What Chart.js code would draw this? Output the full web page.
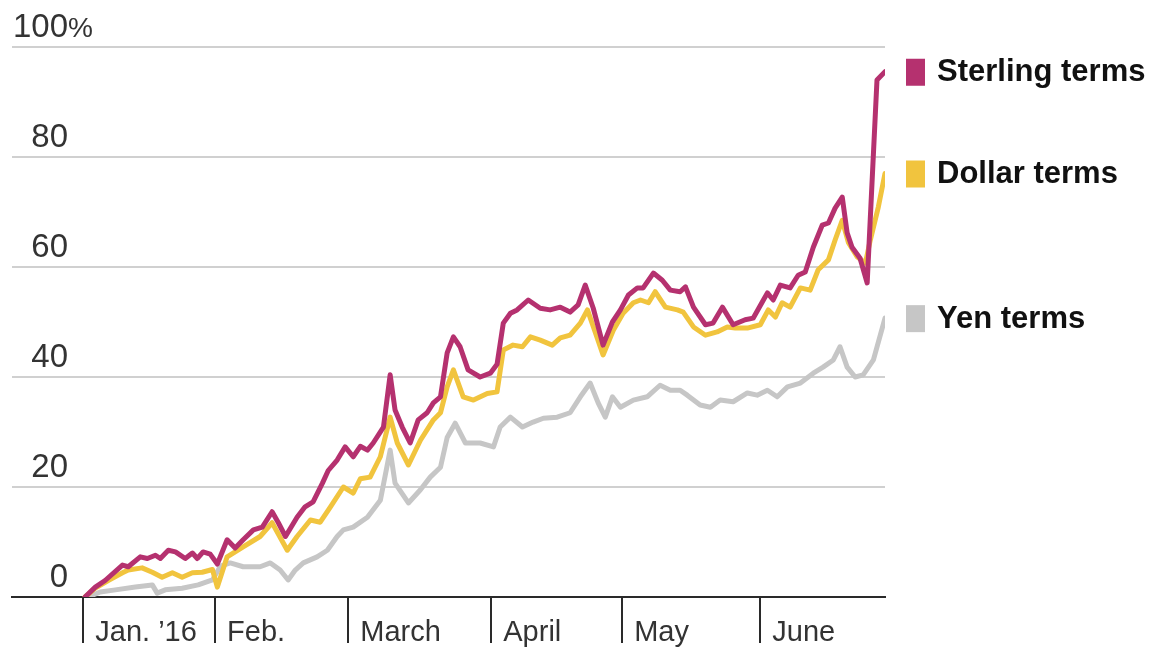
<!DOCTYPE html>
<html>
<head>
<meta charset="utf-8">
<script src="https://cdn.jsdelivr.net/npm/chart.js@4"></script>
<style>
  body { margin: 0; background: #fff; }
  canvas { display: block; }
</style>
</head>
<body>
<canvas id="chart" width="1157" height="651"></canvas>
<script>
// x values are approximate days since Jan. 1
const monthLabels = ["Jan. \u201916", "Feb.", "March", "April", "May", "June"];
const monthStarts = [0, 29.6, 59.5, 91.6, 121.0, 152.0];
const yTicks = [0, 20, 40, 60, 80, 100];

const sterling = [
  [0.4, 0], [2.7, 1.8], [4.9, 3.0], [8.8, 5.8], [10.1, 5.5], [12.8, 7.3], [14.4, 7.0],
  [16.2, 7.6], [17.3, 7.0], [19.1, 8.5], [20.7, 8.2], [22.9, 7.0], [24.5, 8.0], [25.6, 7.0],
  [26.9, 8.2], [28.5, 7.8], [30.1, 6.0], [32.3, 10.4], [34.1, 8.9], [35.9, 10.4], [38.2, 12.2],
  [40.2, 12.7], [42.4, 15.5], [43.8, 13.5], [45.4, 11.0], [48.0, 14.5], [49.8, 16.4],
  [51.6, 17.3], [53.7, 20.7], [55.0, 23.0], [57.0, 24.9], [58.8, 27.3], [60.6, 25.5],
  [62.2, 27.4], [63.8, 26.7], [65.1, 28.0], [67.4, 30.9], [68.9, 40.4], [70.0, 34.0],
  [71.6, 30.9], [73.4, 28.0], [75.2, 32.2], [77.2, 33.5], [78.6, 35.3], [80.2, 36.4],
  [81.7, 44.4], [83.1, 47.3], [84.6, 45.5], [86.4, 41.3], [89.1, 40.0], [91.4, 40.7],
  [92.9, 42.3], [94.3, 49.8], [95.9, 51.6], [97.4, 52.2], [99.9, 54.0], [102.6, 52.5],
  [104.8, 52.2], [107.1, 52.7], [109.3, 51.8], [111.1, 53.1], [112.7, 56.7], [114.5, 52.5],
  [116.7, 45.8], [118.8, 50.0], [120.6, 52.2], [122.4, 54.9], [124.4, 56.2], [125.7, 56.2],
  [128.0, 58.9], [130.0, 57.6], [131.8, 55.8], [134.0, 55.5], [135.2, 56.4], [137.0, 52.7],
  [139.7, 49.5], [141.4, 49.8], [143.5, 52.7], [145.9, 49.5], [148.6, 50.4], [150.4, 50.7],
  [152.7, 54.0], [153.6, 55.3], [154.9, 54.0], [156.5, 56.7], [158.7, 56.2], [160.5, 58.5],
  [162.1, 59.1], [163.9, 63.6], [165.9, 67.6], [167.3, 68.0], [168.8, 70.7], [170.4, 72.7],
  [171.5, 66.2], [172.6, 63.6], [174.4, 61.6], [176.0, 57.1], [178.2, 94.0], [180.0, 95.5]
];

const dollar = [
  [0.4, 0], [2.7, 1.6], [5.6, 3.0], [8.8, 4.4], [10.1, 4.9], [13.2, 5.3], [15.5, 4.5],
  [17.7, 3.6], [20.0, 4.4], [22.2, 3.6], [24.5, 4.4], [26.7, 4.5], [29.0, 5.0], [30.1, 1.8],
  [32.3, 7.3], [35.9, 9.1], [39.7, 11.0], [42.4, 13.5], [45.8, 8.5], [48.0, 11.0],
  [51.0, 14.0], [53.2, 13.6], [55.5, 16.4], [58.4, 20.0], [60.6, 18.9], [62.2, 21.5],
  [64.4, 21.8], [66.7, 25.5], [68.9, 32.7], [70.5, 28.0], [73.0, 24.0], [75.7, 28.5],
  [78.6, 32.2], [80.2, 33.5], [81.7, 38.2], [83.1, 41.3], [85.3, 36.4], [87.6, 35.8],
  [90.7, 37.0], [92.9, 37.3], [94.3, 44.9], [96.5, 45.8], [98.6, 45.5], [100.4, 47.3],
  [102.6, 46.7], [105.3, 45.8], [107.1, 47.1], [109.3, 47.6], [111.6, 49.8], [113.2, 52.2],
  [115.0, 48.0], [116.7, 44.0], [119.0, 48.5], [121.2, 51.6], [123.5, 53.5], [125.1, 54.0],
  [126.9, 53.5], [128.4, 55.5], [130.7, 52.7], [133.4, 52.2], [134.7, 51.8], [137.0, 49.1],
  [139.7, 47.6], [142.3, 48.2], [144.6, 49.1], [146.4, 48.9], [149.1, 48.9], [152.0, 49.5],
  [153.8, 52.2], [155.4, 50.9], [156.9, 53.5], [158.7, 52.7], [161.0, 56.2], [163.2, 55.8],
  [165.0, 59.5], [167.3, 61.3], [168.8, 64.9], [170.4, 68.5], [171.8, 64.4], [173.8, 61.8],
  [175.6, 60.7], [176.7, 64.9], [178.5, 70.9], [180.0, 77.0]
];

const yen = [
  [1.1, 0], [3.8, 0.9], [7.2, 1.3], [11.7, 1.8], [15.5, 2.2], [16.6, 0.7], [18.4, 1.3],
  [22.2, 1.6], [25.8, 2.2], [29.0, 3.1], [30.8, 5.6], [33.0, 6.2], [35.9, 5.5], [39.7, 5.5],
  [42.0, 6.2], [44.2, 4.9], [46.0, 3.1], [47.6, 4.9], [49.4, 6.2], [52.5, 7.3], [54.8, 8.5],
  [57.0, 11.0], [58.4, 12.2], [60.6, 12.7], [63.8, 14.5], [66.7, 17.6], [68.9, 26.7],
  [70.0, 20.7], [73.0, 17.1], [75.7, 19.5], [77.9, 21.8], [80.2, 23.6], [81.7, 29.0],
  [83.5, 31.6], [85.8, 28.0], [89.1, 28.0], [92.1, 27.3], [93.6, 30.9], [95.9, 32.7],
  [98.6, 30.9], [101.0, 31.8], [103.3, 32.5], [106.4, 32.7], [109.3, 33.5], [111.6, 36.4],
  [113.8, 38.9], [115.6, 35.3], [117.2, 32.7], [118.8, 36.4], [120.6, 34.5], [123.5, 35.8],
  [126.6, 36.4], [129.5, 38.5], [131.8, 37.6], [134.0, 37.6], [135.6, 36.7], [138.5, 34.9],
  [140.8, 34.5], [143.0, 35.8], [145.9, 35.5], [149.1, 37.1], [151.3, 36.7], [153.6, 37.6],
  [155.8, 36.4], [158.1, 38.2], [161.0, 38.9], [163.9, 40.7], [166.1, 41.8], [168.4, 43.1],
  [169.9, 45.5], [171.5, 41.8], [173.3, 40.0], [175.1, 40.4], [177.4, 43.1], [180.0, 50.7]
];

const seriesNames = ["Sterling terms", "Dollar terms", "Yen terms"];
const seriesColors = ["#b5316f", "#f1c43e", "#c6c6c6"];

const FONT = "'Liberation Sans', Arial, sans-serif";

// names next to the last point of each line
const endLabels = {
  id: "endLabels",
  afterDatasetsDraw(chart) {
    const ctx = chart.ctx;
    const right = chart.chartArea.right;
    ctx.save();
    ctx.font = "bold 31px " + FONT;
    ctx.textBaseline = "middle";
    chart.data.datasets.forEach((ds, i) => {
      const pts = chart.getDatasetMeta(i).data;
      const y = pts[pts.length - 1].y;
      ctx.fillStyle = ds.borderColor;
      ctx.fillRect(right + 21, y - 13, 19, 27);
      ctx.fillStyle = "#111";
      ctx.fillText(ds.label, right + 52, y + 1);
    });
    ctx.restore();
  }
};

// long month tick marks below the axis line
const monthTicks = {
  id: "monthTicks",
  afterDraw(chart) {
    const xs = chart.scales.x;
    const ctx = chart.ctx;
    ctx.save();
    ctx.strokeStyle = "#2a2a2a";
    ctx.lineWidth = 2;
    monthStarts.forEach((v) => {
      const px = Math.round(xs.getPixelForValue(v));
      ctx.beginPath();
      ctx.moveTo(px, xs.top);
      ctx.lineTo(px, xs.top + 46);
      ctx.stroke();
    });
    ctx.restore();
  }
};

// hanging % after the top tick label
const percentSign = {
  id: "percentSign",
  afterDraw(chart) {
    const yScale = chart.scales.y;
    const opts = yScale.options.ticks;
    const ctx = chart.ctx;
    ctx.save();
    ctx.font = opts.font.size + "px " + FONT;
    const w = ctx.measureText("100").width;
    ctx.fillStyle = opts.color;
    ctx.textAlign = "left";
    ctx.textBaseline = "middle";
    ctx.font = (opts.font.size - 5) + "px " + FONT;
    ctx.fillText("%", yScale.right + opts.padding + w, yScale.getPixelForValue(100) + opts.labelOffset + 1);
    ctx.restore();
  }
};

new Chart(document.getElementById("chart"), {
  type: "line",
  data: {
    datasets: [
      { label: seriesNames[0], data: sterling, borderColor: seriesColors[0] },
      { label: seriesNames[1], data: dollar, borderColor: seriesColors[1] },
      { label: seriesNames[2], data: yen, borderColor: seriesColors[2] }
    ]
  },
  options: {
    responsive: false,
    animation: false,
    layout: { padding: { left: 10, top: 47, right: 272, bottom: -18 } },
    elements: {
      line: { borderWidth: 5, tension: 0, borderJoinStyle: "round", borderCapStyle: "round" },
      point: { radius: 0 }
    },
    plugins: {
      legend: { display: false },
      tooltip: { enabled: false }
    },
    scales: {
      x: {
        type: "linear",
        min: -16,
        max: 180,
        afterBuildTicks: (scale) => {
          scale.ticks = monthStarts.map((v) => ({ value: v }));
        },
        grid: { display: false, drawTicks: false },
        border: { display: true, color: "#2a2a2a", width: 2 },
        ticks: {
          autoSkip: false,
          maxRotation: 0,
          align: "start",
          labelOffset: 12,
          padding: 18.6,
          color: "#333",
          font: { family: FONT, size: 29 },
          callback: (v, i) => monthLabels[i]
        }
      },
      y: {
        min: 0,
        max: 100,
        afterBuildTicks: (scale) => {
          scale.ticks = yTicks.map((v) => ({ value: v }));
        },
        grid: {
          drawTicks: false,
          lineWidth: 2,
          color: (c) => (c.tick && c.tick.value === 0 ? "rgba(0,0,0,0)" : "#d0d0d0")
        },
        border: { display: false },
        ticks: {
          mirror: true,
          crossAlign: "far",
          padding: 1,
          labelOffset: -19,
          color: "#333",
          font: { family: FONT, size: 33 },
          callback: (v) => String(v)
        }
      }
    }
  },
  plugins: [endLabels, monthTicks, percentSign]
});
</script>
</body>
</html>
